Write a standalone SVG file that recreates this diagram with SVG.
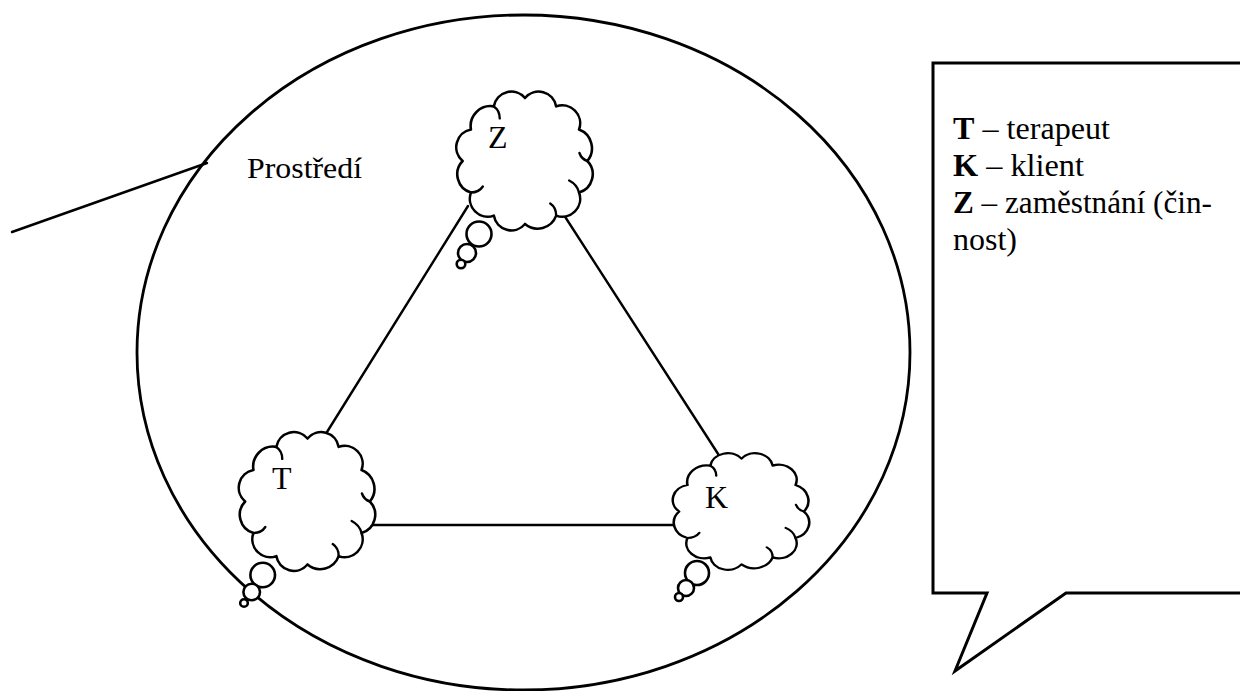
<svg xmlns="http://www.w3.org/2000/svg" width="1240" height="691" viewBox="0 0 1240 691">
<style>
.ln{fill:none;stroke:#000;stroke-width:2.4;stroke-linecap:round;stroke-linejoin:round}
.cl{fill:#fff;stroke:#000;stroke-width:2.6;stroke-linejoin:round}
.curl{fill:none;stroke:#000;stroke-width:2.4;stroke-linecap:round}
.bub{fill:#fff;stroke:#000;stroke-width:2.6}
.lbl{font-family:"Liberation Serif","Times New Roman",serif;fill:#000}
</style>
<defs>
<g id="cloud">
<path class="cl" d="M0,-63 A18 18 0 0 1 31.5,-54.6 A18 18 0 0 1 54.6,-31.5 A20 20 0 0 1 63,0 A19 19 0 0 1 54.6,31.5 A18 18 0 0 1 31.5,54.6 A20 20 0 0 1 0,63 A18 18 0 0 1 -31.5,54.6 A18 18 0 0 1 -54.6,31.5 A19 19 0 0 1 -63,0 A18 18 0 0 1 -54.6,-31.5 A20 20 0 0 1 -31.5,-54.6 A18 18 0 0 1 0,-63 Z"/>
<path class="curl" d="M54.6,31.5 q-2,-8 -10,-12 M-31.5,-54.6 q6,4 6,12 M-54.6,31.5 q8,0 12,-6 M31.5,54.6 q0,-8 -6,-12 M63,0 q-6,-2 -8,-8"/>
</g>
</defs>
<rect width="1240" height="691" fill="#fff"/>
<g id="environment">
<ellipse cx="523.5" cy="352.5" rx="386.5" ry="337.5" fill="none" stroke="#000" stroke-width="2.8"/>
<text class="lbl" x="247" y="178" font-size="30" textLength="115" lengthAdjust="spacingAndGlyphs">Prostředí</text>
</g>
<g id="connectors">
<line class="ln" x1="12" y1="232" x2="207" y2="163"/>
<line class="ln" x1="468" y1="206" x2="327" y2="432"/>
<line class="ln" x1="562" y1="212" x2="722" y2="460"/>
<line class="ln" x1="365" y1="525" x2="682" y2="525"/>
</g>
<g id="node-Z">
<circle class="bub" cx="479" cy="234" r="12.5"/>
<circle class="bub" cx="467" cy="253" r="9"/>
<circle class="bub" cx="461" cy="264" r="4.3"/>
<use href="#cloud" transform="translate(525,161) scale(0.99,1)"/>
<text class="lbl" x="488" y="148" font-size="32">Z</text>
</g>
<g id="node-T">
<circle class="bub" cx="262.7" cy="575" r="12.3"/>
<circle class="bub" cx="251.7" cy="592" r="8.3"/>
<circle class="bub" cx="244" cy="603" r="3.8"/>
<use href="#cloud" transform="translate(307.5,501.5) scale(0.99,1)"/>
<text class="lbl" x="272" y="489" font-size="32">T</text>
</g>
<g id="node-K">
<circle class="bub" cx="697" cy="573" r="12"/>
<circle class="bub" cx="686" cy="588" r="8"/>
<circle class="bub" cx="679" cy="597" r="4"/>
<use href="#cloud" transform="translate(741.5,511.5) scale(0.99,0.84)"/>
<text class="lbl" x="705" y="508" font-size="32">K</text>
</g>
<g id="legend">
<path d="M1242,63 L933,63 L933,593 L987,593 L955,671 L1066,593 L1242,593" fill="none" stroke="#000" stroke-width="3" stroke-linejoin="miter"/>
<text class="lbl" x="953" y="139" font-size="31" textLength="157" lengthAdjust="spacingAndGlyphs"><tspan font-weight="bold">T</tspan> – terapeut</text>
<text class="lbl" x="953" y="176" font-size="31" textLength="131" lengthAdjust="spacingAndGlyphs"><tspan font-weight="bold">K</tspan> – klient</text>
<text class="lbl" x="953" y="213" font-size="31" textLength="259" lengthAdjust="spacingAndGlyphs"><tspan font-weight="bold">Z</tspan> – zaměstnání (čin-</text>
<text class="lbl" x="953" y="250" font-size="31" textLength="64" lengthAdjust="spacingAndGlyphs">nost)</text>
</g>
</svg>
